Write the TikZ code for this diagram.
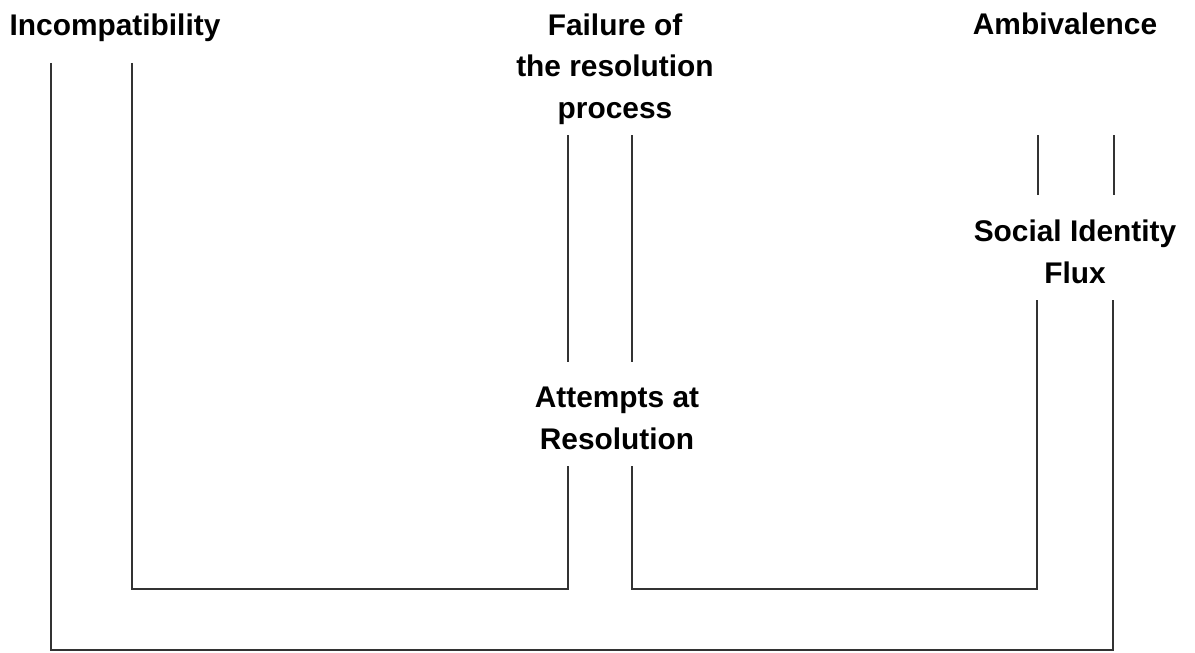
\documentclass[tikz,border=0pt]{standalone}
\usepackage{fontspec}
\setmainfont{Liberation Sans}
\begin{document}
\begin{tikzpicture}[x=0.02cm,y=-0.02cm,
    stage/.style={font=\bfseries\fontsize{17}{23.5}\selectfont,align=center,inner sep=0pt,anchor=base},
    pipe/.style={draw=black!80,line width=1.2pt}]
  \useasboundingbox (0,0) rectangle (1195,652);
  % the stages
  \node[stage] (incomp) at (115,36) {Incompatibility};
  \node[stage] (failure) at (615,118) {Failure of\\the resolution\\process};
  \node[stage] (ambiv) at (1065,35) {Ambivalence};
  \node[stage] (flux) at (1075,283) {Social Identity\\Flux};
  \node[stage] (attempts) at (617,449) {Attempts at\\Resolution};
  % ends of the lines
  \coordinate (inA) at (132,63);
  \coordinate (inB) at (51,63);
  \coordinate (faA) at (568,135);
  \coordinate (faB) at (632,135);
  \coordinate (atA) at (568,362);
  \coordinate (atB) at (632,362);
  \coordinate (atC) at (568,466);
  \coordinate (atD) at (632,466);
  \coordinate (amA) at (1038,135);
  \coordinate (amB) at (1114,135);
  \coordinate (fxA) at (1038,195);
  \coordinate (fxB) at (1114,195);
  \coordinate (fxC) at (1037,300);
  \coordinate (fxD) at (1113,300);
  \coordinate (inner) at (0,589);
  \coordinate (outer) at (0,650);
  \begin{scope}[pipe]
    \draw (inA) -- (inA |- inner) -- (atC |- inner) -- (atC);
    \draw (atD) -- (atD |- inner) -- (fxC |- inner) -- (fxC);
    \draw (inB) -- (inB |- outer) -- (fxD |- outer) -- (fxD);
    \draw (faA) -- (atA);
    \draw (faB) -- (atB);
    \draw (amA) -- (fxA);
    \draw (amB) -- (fxB);
  \end{scope}
\end{tikzpicture}
\end{document}
